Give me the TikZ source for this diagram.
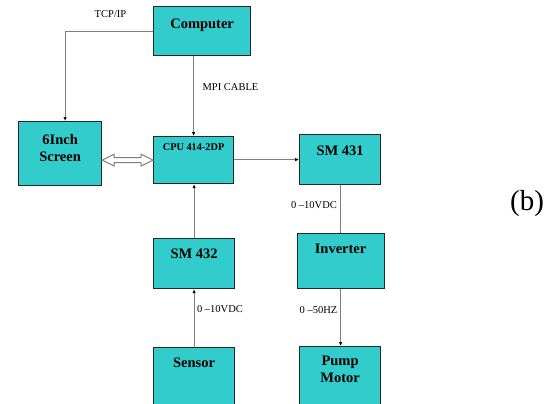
\documentclass[tikz,border=0pt]{standalone}
\usepackage{fontspec}
\setmainfont{Liberation Serif}
\usetikzlibrary{positioning, calc, arrows.meta}
\definecolor{boxcyan}{RGB}{51,204,204}
\definecolor{wiregray}{RGB}{128,128,128}

\begin{document}
\begin{tikzpicture}[
    x=1pt, y=1pt,
    box/.style={draw=black!85, line width=1.2pt, fill=boxcyan, anchor=north west, inner sep=0pt},
    boxtext/.style={font=\fontsize{14.5}{17}\selectfont\bfseries, align=center, inner sep=0pt},
    sig/.style={font=\fontsize{10.5}{12}\selectfont, inner sep=0pt},
    wire/.style={draw=wiregray, line width=1pt},
    wirearrow/.style={wire, -{Latex[length=4pt, width=3.5pt, color=black]}}
]
\useasboundingbox (0,0) rectangle (557,-404);

% Boxes
\node (computer) [box, minimum width=97pt, minimum height=49pt] at (153,-6) {};
\node (screen) [box, minimum width=83pt, minimum height=64pt] at (18,-121) {};
\node (cpu) [box, minimum width=80pt, minimum height=47pt] at (153,-136) {};
\node (sm431) [box, minimum width=81pt, minimum height=50pt] at (299,-134) {};
\node (sm432) [box, minimum width=81pt, minimum height=50pt] at (153,-238) {};
\node (inverter) [box, minimum width=87pt, minimum height=55pt] at (296.5,-233) {};
\node (sensor) [box, minimum width=81pt, minimum height=62pt] at (153,-347) {};
\node (pump) [box, minimum width=81pt, minimum height=62pt] at (299,-346) {};

% Box texts
\node (computer_txt) [boxtext, below=12.5pt of computer.north] {Computer};
\node (screen_txt) [boxtext, below=13pt of screen.north] {6Inch\\Screen};
\node (cpu_txt) [boxtext, font=\fontsize{10.3}{12}\selectfont\bfseries, below=7pt of cpu.north] {CPU 414-2DP};
\node (sm431_txt) [boxtext, below=11.5pt of sm431.north] {SM 431};
\node (sm432_txt) [boxtext, below=11pt of sm432.north] {SM 432};
\node (inverter_txt) [boxtext, below=11pt of inverter.north] {Inverter};
\node (sensor_txt) [boxtext, below=11pt of sensor.north] {Sensor};
\node (pump_txt) [boxtext, below=10pt of pump.north] {Pump\\Motor};

% Signal labels
\node (tcpip) [sig] at (110.5,-14.5) {TCP/IP};
\node (mpi) [sig] at (230.5,-87) {MPI CABLE};
\node (vdc_out) [sig] at (314,-205) {0 –10VDC};
\node (vdc_in) [sig] at (220,-309.5) {0 –10VDC};
\node (hz_out) [sig] at (318.5,-310) {0 –50HZ};
\node (tag) [font=\fontsize{29}{32}\selectfont, inner sep=0pt] at (527,-204) {(b)};

% Arrows
\draw[wirearrow] (computer.west) -| ([xshift=5pt]screen.north);
\draw[wirearrow] (cpu.north |- computer.south) -- (cpu.north);
\draw[wirearrow] (cpu.east |- sm431.west) -- (sm431.west);
\draw[wirearrow] (sm432.north) -- (sm432.north |- cpu.south);
\draw[wirearrow] (sensor.north) -- (sm432.south);
\draw[wire] (sm431.south) -- (sm431.south |- inverter.north);
\draw[wirearrow] (inverter.south) -- (inverter.south |- pump.north);

% Screen <-> CPU
\coordinate (screen_port) at (screen.east |- cpu.west);
\draw[wire, fill=white] (screen_port) -- ++(12,6) -- ++(0,-3.5)
    -- ($(cpu.west)+(-12,2.5)$) -- ++(0,3.5) -- (cpu.west) -- ++(-12,-6) -- ++(0,3.5)
    -- ($(screen_port)+(12,-2.5)$) -- ++(0,-3.5) -- cycle;

\end{tikzpicture}
\end{document}
